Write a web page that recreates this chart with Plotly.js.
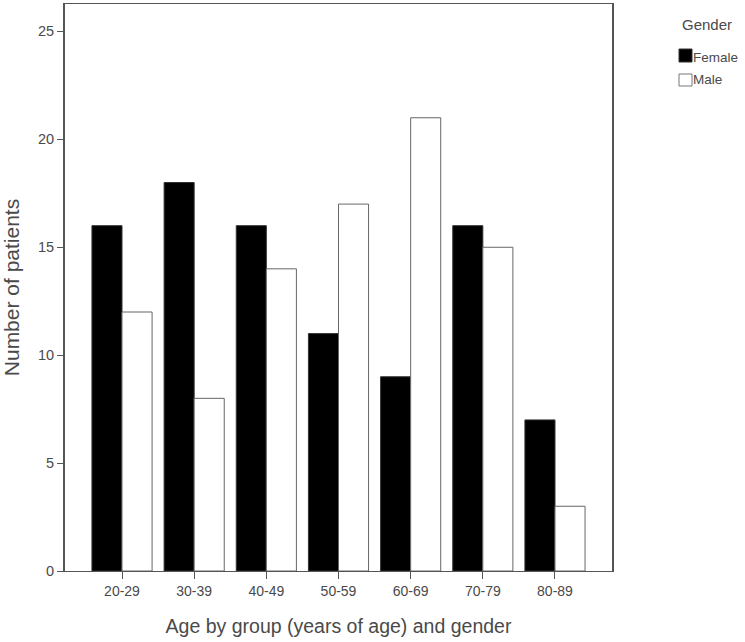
<!DOCTYPE html>
<html>
<head>
<meta charset="utf-8">
<script src="https://cdn.plot.ly/plotly-3.0.1.min.js"></script>
<style>html,body{margin:0;padding:0;background:#fff;}#chart{width:745px;height:642px;}</style>
</head>
<body>
<div id="chart"></div>
<script>
const categories = ["20-29", "30-39", "40-49", "50-59", "60-69", "70-79", "80-89"];
const female = [16, 18, 16, 11, 9, 16, 7];
const male = [12, 8, 14, 17, 21, 15, 3];
const yTicks = [0, 5, 10, 15, 20, 25];
const legendTitle = "Gender";
const seriesNames = ["Female", "Male"];

const font = "Liberation Sans, Arial, sans-serif";
const txt = "#4a4a4a";
const traces = [
  {type: "bar", name: seriesNames[0], x: categories, y: female, offsetgroup: "f",
   marker: {color: "#000000", line: {color: "#333333", width: 1}}},
  {type: "bar", name: seriesNames[1], x: categories, y: male, offsetgroup: "m",
   marker: {color: "#ffffff", line: {color: "#666666", width: 1}}}
];

// custom legend (paper coordinates)
const legendItems = [
  {name: seriesNames[0], fill: "#000000", line: "#333333", y0: 0.8977, y1: 0.9206, ty: 0.9065},
  {name: seriesNames[1], fill: "#ffffff", line: "#777777", y0: 0.8554, y1: 0.8765, ty: 0.866}
];
const shapes = legendItems.map(it => ({
  type: "rect", xref: "paper", yref: "paper", x0: 1.1225, x1: 1.1463, y0: it.y0, y1: it.y1,
  fillcolor: it.fill, line: {color: it.line, width: 1}
}));
const annotations = [{
  text: legendTitle, xref: "paper", yref: "paper", x: 1.1737, y: 0.9647,
  xanchor: "center", yanchor: "middle", showarrow: false,
  font: {size: 15, color: txt, family: font}
}].concat(legendItems.map(it => ({
  text: it.name, xref: "paper", yref: "paper", x: 1.1463, y: it.ty,
  xanchor: "left", yanchor: "middle", showarrow: false, xshift: -1,
  font: {size: 13.5, color: txt, family: font}
})));

const layout = {
  width: 745, height: 642,
  margin: {l: 65, r: 133, t: 4, b: 71},
  paper_bgcolor: "#fff", plot_bgcolor: "#fff",
  barmode: "group", bargap: 0.1667, bargroupgap: 0,
  showlegend: false,
  font: {family: font, color: txt, size: 12},
  xaxis: {
    type: "category", range: [-0.79, 6.79],
    showline: true, linecolor: "#555", linewidth: 1, mirror: true,
    ticks: "outside", ticklen: 7, tickcolor: "#555",
    showgrid: false, zeroline: false,
    tickfont: {size: 14, color: txt},
    title: {text: "Age by group (years of age) and gender", font: {size: 19.5, color: txt}, standoff: 21}
  },
  yaxis: {
    range: [0, 26.27], tickvals: yTicks, ticktext: yTicks.map(String),
    showline: true, linecolor: "#555", linewidth: 2, mirror: true,
    ticks: "outside", ticklen: 6, tickcolor: "#555",
    showgrid: false, zeroline: false,
    tickfont: {size: 14.5, color: txt},
    title: {text: "Number of patients", font: {size: 21, color: txt}, standoff: 14}
  },
  shapes: shapes,
  annotations: annotations
};
Plotly.newPlot("chart", traces, layout, {staticPlot: true});
</script>
</body>
</html>
